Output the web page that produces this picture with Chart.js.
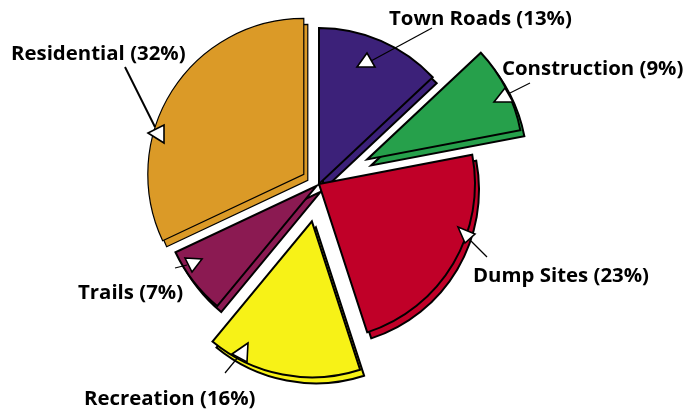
<!DOCTYPE html>
<html>
<head>
<meta charset="utf-8">
<script src="https://cdn.jsdelivr.net/npm/chart.js@4.4.1/dist/chart.umd.min.js"></script>
<style>
  html, body { margin: 0; padding: 0; background: #ffffff; }
  #wrap { width: 685px; height: 410px; position: relative; }
</style>
</head>
<body>
<div id="wrap"><canvas id="chartLandUse"></canvas></div>
<script>
// slice data, clockwise from 12 o'clock
const categories = ['Town Roads', 'Construction', 'Dump Sites', 'Recreation', 'Trails', 'Residential'];
const shares = [13, 9, 23, 16, 7, 32];
const labelTexts = ['Town Roads (13%)', 'Construction (9%)', 'Dump Sites (23%)', 'Recreation (16%)', 'Trails (7%)', 'Residential (32%)'];

const sliceColors = ['#3c2179', '#26a04b', '#c00028', '#f7f217', '#8b1a52', '#db9a27'];
const sliceBorders = [2, 2, 2, 2, 2, 1.2];
// how far each slice is pulled out, px
const explode = [0, 54, 0, 38, 3, 18];
const rimShift = { x: 4, y: 6 };

// callout layout, relative to pie centre: text anchor (left, baseline), leader line, arrow triangle
const callouts = [
    { text: [70, -159], line: [[113, -156], [52, -123]], tri: [[48, -131], [38, -117], [56, -117]], lw: 1.2 },
    { text: [183, -109], line: [[211, -101], [191, -91]], tri: [[186, -96], [175, -82], [194, -82]], lw: 1.2 },
    { text: [154, 98], line: [[168, 73], [151, 56]], tri: [[139, 43], [156, 50], [146, 59]], lw: 1.2 },
    { text: [-235, 221], line: [[-94, 189], [-80, 172]], tri: [[-71, 159], [-87, 170], [-72, 178]], lw: 1.2 },
    { text: [-241, 115], line: [[-144, 84], [-132, 81]], tri: [[-134, 74], [-117, 75], [-127, 88]], lw: 1.2 },
    { text: [-308, -124], line: [[-194, -117], [-164, -57]], tri: [[-171, -51], [-155, -59], [-155, -41]], lw: 2 }
];

function drawArcAt(ctx, arc, dx, dy) {
    ctx.save();
    ctx.translate(dx, dy);
    arc.draw(ctx);
    ctx.restore();
}

// draws the exploded slices with a thick "rim" below, using the pie's own arc elements
const explodedPiePlugin = {
    id: 'explodedPie',
    beforeDatasetsDraw(chart) {
        const ctx = chart.ctx;
        const arcs = chart.getDatasetMeta(0).data;
        const shifts = arcs.map((arc, i) => {
            const mid = (arc.startAngle + arc.endAngle) / 2;
            return [Math.cos(mid) * explode[i], Math.sin(mid) * explode[i]];
        });
        arcs.forEach((arc, i) => drawArcAt(ctx, arc, shifts[i][0] + rimShift.x, shifts[i][1] + rimShift.y));
        arcs.forEach((arc, i) => drawArcAt(ctx, arc, shifts[i][0], shifts[i][1]));
        return false;
    }
};

const calloutPlugin = {
    id: 'callouts',
    afterDraw(chart) {
        const ctx = chart.ctx;
        const arc0 = chart.getDatasetMeta(0).data[0];
        const cx = arc0.x;
        const cy = arc0.y;
        ctx.save();
        ctx.font = 'bold 20.4px "Open Sans", sans-serif';
        ctx.textBaseline = 'alphabetic';
        ctx.textAlign = 'left';
        callouts.forEach((c, i) => {
            ctx.strokeStyle = '#000';
            ctx.lineWidth = c.lw;
            ctx.beginPath();
            ctx.moveTo(cx + c.line[0][0], cy + c.line[0][1]);
            ctx.lineTo(cx + c.line[1][0], cy + c.line[1][1]);
            ctx.stroke();

            ctx.beginPath();
            c.tri.forEach((p, j) => {
                if (j === 0) ctx.moveTo(cx + p[0], cy + p[1]);
                else ctx.lineTo(cx + p[0], cy + p[1]);
            });
            ctx.closePath();
            ctx.fillStyle = '#fff';
            ctx.fill();
            ctx.lineWidth = 1.6;
            ctx.lineJoin = 'miter';
            ctx.stroke();

            ctx.fillStyle = '#000';
            ctx.fillText(labelTexts[i], cx + c.text[0], cy + c.text[1]);
        });
        ctx.restore();
    }
};

new Chart(document.getElementById('chartLandUse'), {
    type: 'pie',
    data: {
        labels: categories,
        datasets: [{
            data: shares,
            backgroundColor: sliceColors,
            borderColor: '#000',
            borderWidth: sliceBorders,
            borderJoinStyle: 'miter',
            hoverOffset: 0,
            clip: false
        }]
    },
    options: {
        responsive: true,
        maintainAspectRatio: false,
        animation: false,
        radius: 156,
        layout: { padding: { left: 0, right: 47, top: 0, bottom: 42 } },
        events: [],
        plugins: {
            legend: { display: false },
            tooltip: { enabled: false }
        }
    },
    plugins: [explodedPiePlugin, calloutPlugin]
});
</script>
</body>
</html>
